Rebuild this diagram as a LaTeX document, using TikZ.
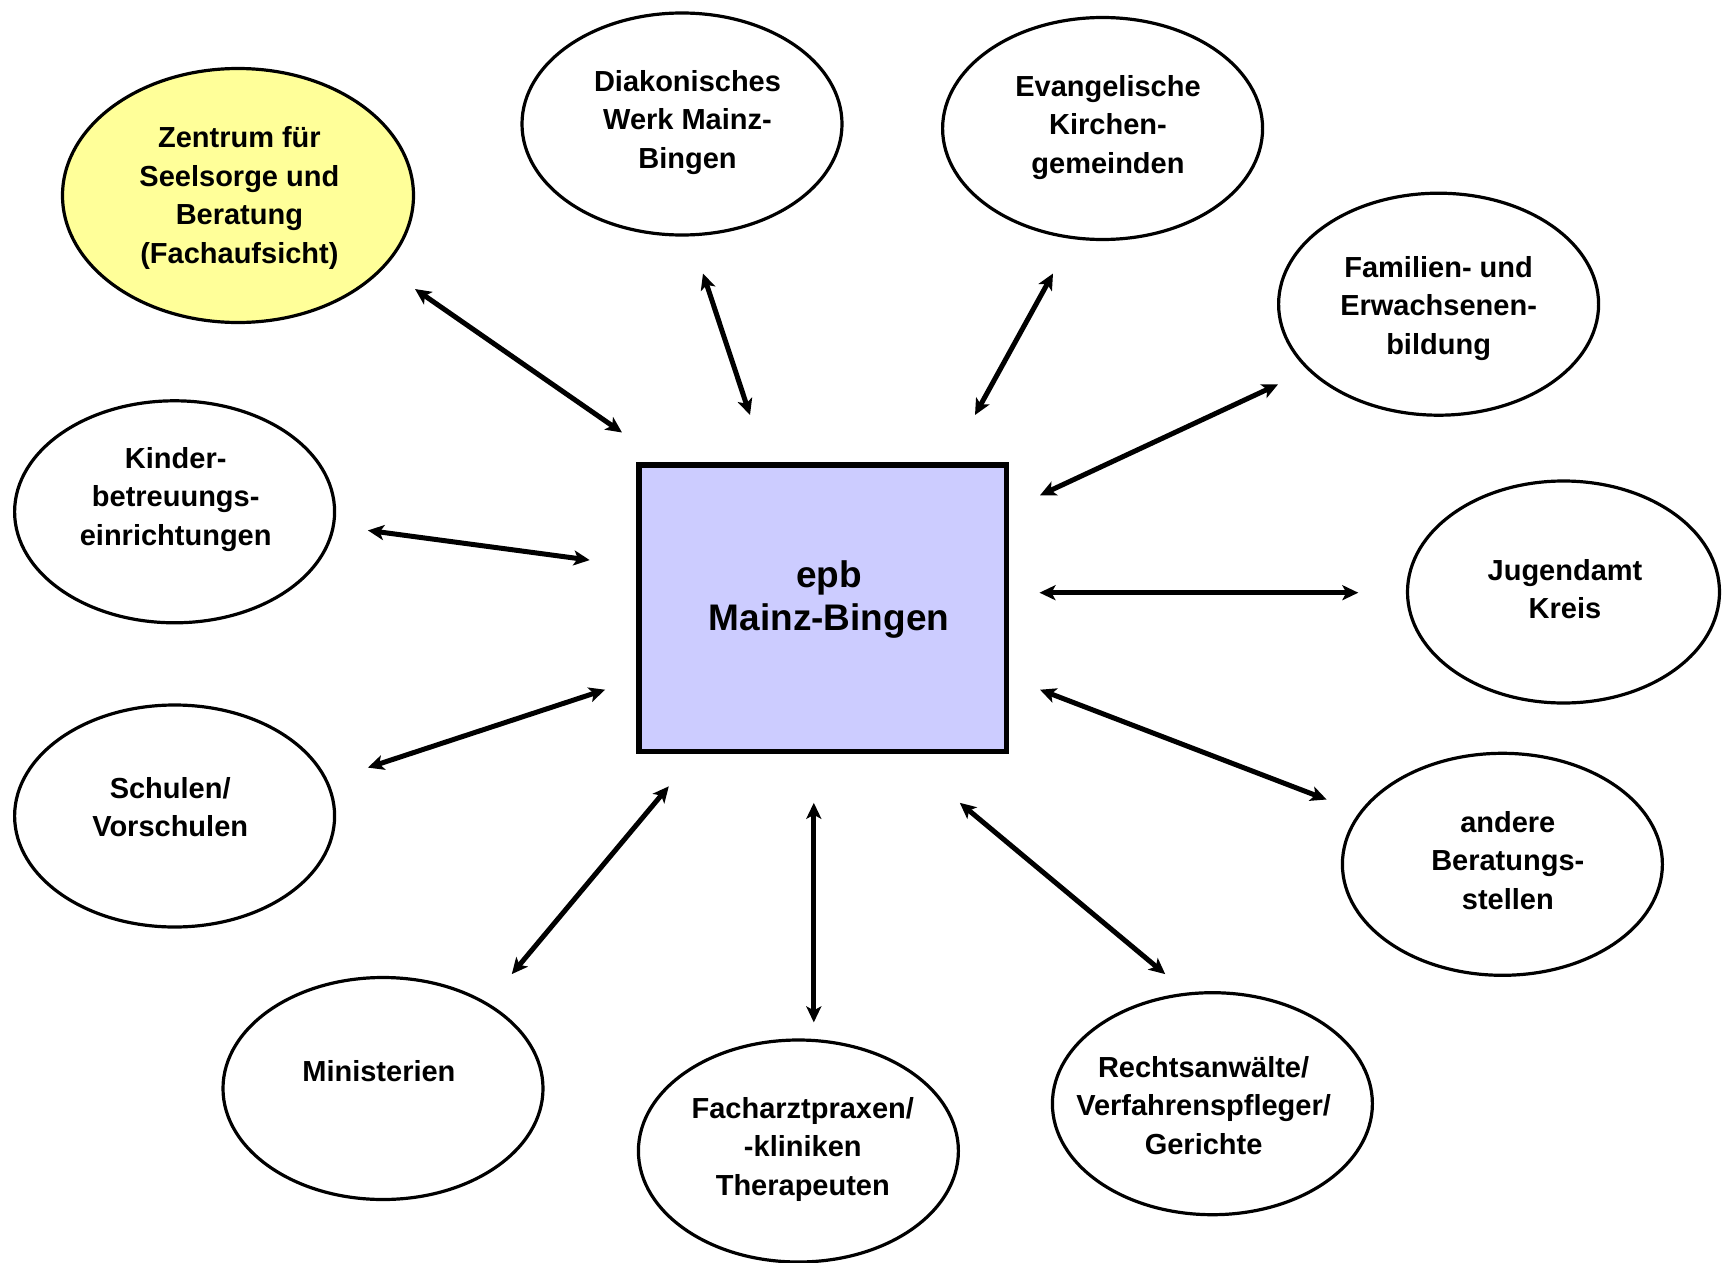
\documentclass[tikz,border=0pt]{standalone}
\usepackage{fontspec}
\setmainfont{Liberation Sans}
\usetikzlibrary{shapes.geometric,arrows.meta}
\definecolor{zyellow}{HTML}{FFFF99}
\definecolor{boxblue}{HTML}{CCCCFF}
\begin{document}
\begin{tikzpicture}[x=1pt,y=-1pt,
  partner/.style={draw,ellipse,line width=3.2pt,fill=white,minimum width=320pt,minimum height=222pt,inner sep=0pt},
  txt/.style={align=center,font=\fontsize{29}{38.5}\selectfont\bfseries,inner sep=0pt},
  link/.style={line width=5pt,{Stealth[length=16pt,width=15pt,inset=4pt]}-{Stealth[length=16pt,width=15pt,inset=4pt]}}
]
\useasboundingbox (0,0) rectangle (1722,1263);

% ellipses
\node[partner,fill=zyellow,minimum width=351pt,minimum height=254pt] (e1) at (238,195.5) {};
\node[partner] (e2) at (682,124) {};
\node[partner] (e3) at (1102.6,128.5) {};
\node[partner] (e4) at (1438.6,304.2) {};
\node[partner,minimum width=312pt] (e5) at (1563.5,592) {};
\node[partner] (e6) at (1502.4,864.3) {};
\node[partner] (e7) at (1212.4,1103.7) {};
\node[partner] (e8) at (798.4,1151) {};
\node[partner] (e9) at (383,1088.5) {};
\node[partner] (e10) at (174.6,816) {};
\node[partner] (e11) at (174.6,511.8) {};

% texts
\node[txt] (t1) at (239.4,198.2) {Zentrum für\\Seelsorge und\\Beratung\\(Fachaufsicht)};
\node[txt] (t2) at (687.5,122.5) {Diakonisches\\Werk Mainz-\\Bingen};
\node[txt] (t3) at (1108,127.4) {Evangelische\\Kirchen-\\gemeinden};
\node[txt] (t4) at (1438.6,308.1) {Familien- und\\Erwachsenen-\\bildung};
\node[txt] (t5) at (1565,589.2) {Jugendamt\\Kreis};
\node[txt] (t6) at (1507.8,860.4) {andere\\Beratungs-\\stellen};
\node[txt] (t7) at (1203.6,1105.3) {Rechtsanwälte/\\Verfahrenspfleger/\\Gerichte};
\node[txt] (t8) at (802.8,1149.3) {Facharztpraxen/\\-kliniken\\Therapeuten};
\node[txt] (t9) at (378.9,1070.7) {Ministerien};
\node[txt] (t10) at (170.2,807.2) {Schulen/\\Vorschulen};
\node[txt] (t11) at (175.7,499.1) {Kinder-\\betreuungs-\\einrichtungen};

% centre box
\node[draw,line width=5.5pt,fill=boxblue,minimum width=367.5pt,minimum height=286.7pt,inner sep=0pt] (epb) at (822.75,608.35) {};
\node[align=center,inner sep=0pt,font=\fontsize{37}{43}\selectfont\bfseries] (epbt) at (829,599.6) {epb\\Mainz-Bingen};

% arrow end points
\coordinate (a1s) at (415,289);
\coordinate (a1e) at (622,432.5);
\coordinate (a2s) at (703,273.5);
\coordinate (a2e) at (750,415);
\coordinate (a3s) at (1053,273.5);
\coordinate (a3e) at (975,415);
\coordinate (a4s) at (1278,384.4);
\coordinate (a4e) at (1040,495.3);
\coordinate (a5s) at (1039.5,592.7);
\coordinate (a5e) at (1358.3,592.7);
\coordinate (a6s) at (1040,689.7);
\coordinate (a6e) at (1326.6,799.5);
\coordinate (a7s) at (959.8,802.8);
\coordinate (a7e) at (1165.2,974.1);
\coordinate (a8s) at (813.8,802.8);
\coordinate (a8e) at (813.8,1022.4);
\coordinate (a9s) at (668.8,786.3);
\coordinate (a9e) at (511.8,974.1);
\coordinate (a10s) at (605.1,689.7);
\coordinate (a10e) at (367.9,767.6);
\coordinate (a11s) at (367.9,530.4);
\coordinate (a11e) at (589.7,560.1);

\draw[link] (a1s) -- (a1e);
\draw[link] (a2s) -- (a2e);
\draw[link] (a3s) -- (a3e);
\draw[link] (a4s) -- (a4e);
\draw[link] (a5s) -- (a5e);
\draw[link] (a6s) -- (a6e);
\draw[link] (a7s) -- (a7e);
\draw[link] (a8s) -- (a8e);
\draw[link] (a9s) -- (a9e);
\draw[link] (a10s) -- (a10e);
\draw[link] (a11s) -- (a11e);
\end{tikzpicture}
\end{document}
